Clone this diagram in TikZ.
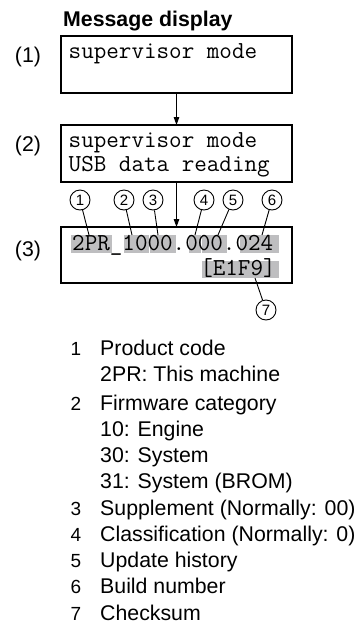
\documentclass[tikz,border=0pt]{standalone}
\usepackage{fontspec}
\setmainfont{Liberation Sans}
\usetikzlibrary{arrows.meta}
\definecolor{hlgray}{RGB}{190,190,192}
\begin{document}
\begin{tikzpicture}[x=1pt,y=-1pt,
  lcd/.style={draw, line width=2.4pt, minimum width=231pt, inner sep=0pt, outer sep=0pt, anchor=north west},
  mono/.style={font=\fontsize{24.4}{29}\selectfont\ttfamily, inner sep=0pt, anchor=base west},
  lbl/.style={font=\fontsize{21.3}{25}\selectfont, inner sep=0pt, anchor=base},
  ttl/.style={font=\fontsize{21.3}{25}\selectfont\bfseries, inner sep=0pt, anchor=base west},
  circ/.style={circle, draw, line width=0.9pt, minimum size=20pt, inner sep=0pt, font=\fontsize{15}{15}\selectfont},
  lead/.style={line width=0.9pt},
  flow/.style={line width=1pt, -{Triangle[length=8pt,width=5.5pt]}},
  hl/.style={fill=hlgray},
  num/.style={font=\fontsize{19}{22}\selectfont, inner sep=0pt, anchor=base},
  item/.style={font=\fontsize{21.3}{25}\selectfont, inner sep=0pt, anchor=base west}
]
\useasboundingbox (0,0) rectangle (355,641);

% title
\node[ttl] (title) at (63,26) {Message display};

% boxes
\node[lcd, minimum height=57pt] (box1) at (61,36) {};
\node[lcd, minimum height=57pt] (box2) at (61,125) {};
\node[lcd, minimum height=56pt] (box3) at (61,227) {};

\draw[flow] (box1.south) -- (box2.north);
\draw[flow] (box2.south) -- (box3.north);

% step labels
\node[lbl] (l1) at (28,62) {(1)};
\node[lbl] (l2) at (28,151) {(2)};
\node[lbl] (l3) at (28,256) {(3)};

% box texts
\node[mono] (t1) at (68.5,58) {supervisor mode};
\node[mono] (t2a) at (68.5,147) {supervisor mode};
\node[mono] (t2b) at (68.5,171) {USB data reading};

% highlights
\fill[hl] (71,235) rectangle (112,253);
\fill[hl] (124,235) rectangle (149.4,253);
\fill[hl] (150.4,235) rectangle (175.5,253);
\fill[hl] (188.5,235) rectangle (200.5,253);
\fill[hl] (201.5,235) rectangle (227,253);
\fill[hl] (239.5,235) rectangle (279,253);
\fill[hl] (201.5,261) rectangle (279,278);

\node[mono] (t3a) at (72,250.5) {2PR\_1000.000.024};
\node[mono] (t3b) at (200.1,275.5) {[E1F9]};

% callouts
\node[circ] (c1) at (80,200) {1};
\node[circ] (c2) at (124,200) {2};
\node[circ] (c3) at (153,200) {3};
\node[circ] (c4) at (204,200) {4};
\node[circ] (c5) at (233,200) {5};
\node[circ] (c6) at (272,200) {6};
\node[circ] (c7) at (266,310) {7};

\coordinate (e1) at (89,235);
\coordinate (e2) at (132,235);
\coordinate (e3) at (158,235);
\coordinate (e4) at (195,235);
\coordinate (e5) at (218,235);
\coordinate (e6) at (262,235);
\coordinate (e7) at (255,278);

\draw[lead] (c1) -- (e1);
\draw[lead] (c2) -- (e2);
\draw[lead] (c3) -- (e3);
\draw[lead] (c4) -- (e4);
\draw[lead] (c5) -- (e5);
\draw[lead] (c6) -- (e6);
\draw[lead] (c7) -- (e7);

% legend
\node[num] (n1) at (76,355) {1};
\node[item] (i1a) at (100,355) {Product code};
\node[item] (i1b) at (100,381) {2PR: This machine};
\node[num] (n2) at (76,410) {2};
\node[item] (i2a) at (100,410) {Firmware category};
\node[item] (i2b) at (100,436) {10: Engine};
\node[item] (i2c) at (100,462) {30: System};
\node[item] (i2d) at (100,488) {31: System (BROM)};
\node[num] (n3) at (76,515) {3};
\node[item] (i3) at (100,515) {Supplement (Normally: 00)};
\node[num] (n4) at (76,541) {4};
\node[item] (i4) at (100,541) {Classification (Normally: 0)};
\node[num] (n5) at (76,567) {5};
\node[item] (i5) at (100,567) {Update history};
\node[num] (n6) at (76,593) {6};
\node[item] (i6) at (100,593) {Build number};
\node[num] (n7) at (76,620) {7};
\node[item] (i7) at (100,620) {Checksum};
\end{tikzpicture}
\end{document}
